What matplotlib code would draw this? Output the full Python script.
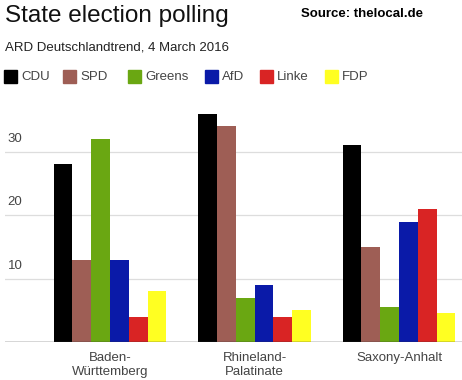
import matplotlib.pyplot as plt
import numpy as np
from matplotlib.patches import Rectangle

plt.rcParams['font.family'] = ['Liberation Sans', 'DejaVu Sans']

states = ["Baden-\nWürttemberg", "Rhineland-\nPalatinate", "Saxony-Anhalt"]
parties = ["CDU", "SPD", "Greens", "AfD", "Linke", "FDP"]
colors = ["#000000", "#9e5e55", "#6aa712", "#0a1aa8", "#d92424", "#ffff22"]

cdu = [28, 36, 31]
spd = [13, 34, 15]
greens = [32, 7, 5.5]
afd = [13, 9, 19]
linke = [4, 4, 21]
fdp = [8, 5, 4.5]
values = [cdu, spd, greens, afd, linke, fdp]

fig = plt.figure(figsize=(4.62, 3.8), dpi=100)
W, H = 462, 380

# axes: left at px 5, baseline at px 342, top at px 101
ax = fig.add_axes([5 / W, (H - 342) / H, 1 - 5 / W, (342 - 101) / H])

x = np.arange(len(states))
bw = 0.13
for i, (vals, c) in enumerate(zip(values, colors)):
    ax.bar(x + (i - 2.5) * bw, vals, width=bw, color=c, linewidth=0, zorder=3)

ax.set_xlim(-0.727, 2.436)
ax.set_ylim(0, 38)
for yv in [10, 20, 30]:
    ax.axhline(yv, color="#dddddd", lw=0.9, zorder=1)
    ax.text(-0.71, yv + 1.1, str(yv), color="#444444", fontsize=9.5, va="bottom", ha="left")
ax.axhline(0, color="#333333", lw=1.0, zorder=4)

for s in ax.spines.values():
    s.set_visible(False)
ax.set_yticks([])
ax.set_xticks(x)
ax.set_xticklabels(states, color="#444444", fontsize=9.5, linespacing=1.2)
ax.tick_params(axis="x", length=0, pad=7)

# titles
fig.text(5 / W, 1 - 16 / H, "State election polling", fontsize=17.5, color="#111111",
         va="center", ha="left")
fig.text(301 / W, 1 - 14 / H, "Source: thelocal.de", fontsize=9.5, fontweight="bold",
         color="#000000", va="center", ha="left")
fig.text(5 / W, 1 - 48 / H, "ARD Deutschlandtrend, 4 March 2016", fontsize=9.5,
         color="#222222", va="center", ha="left")

# legend
leg_x = [4, 63, 128, 205, 260, 325]
for px, name, c in zip(leg_x, parties, colors):
    fig.patches.append(Rectangle((px / W, 1 - 83 / H), 13 / W, 13 / H, color=c,
                                 transform=fig.transFigure, figure=fig))
    fig.text((px + 17) / W, 1 - 77 / H, name, fontsize=9.5, color="#444444",
             va="center", ha="left")

fig.savefig("out.png", dpi=100)
